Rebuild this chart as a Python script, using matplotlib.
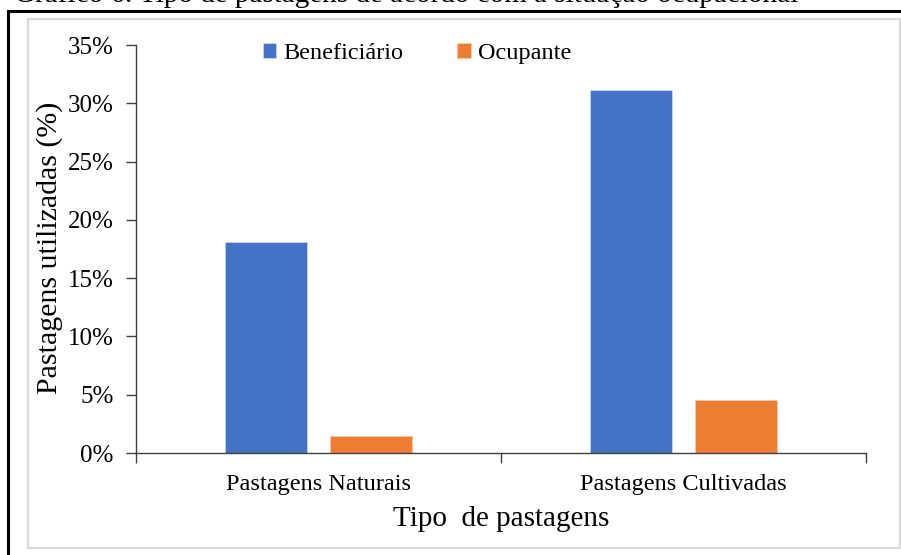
import matplotlib
matplotlib.use("Agg")
import matplotlib.pyplot as plt
from matplotlib.patches import Rectangle
from matplotlib.lines import Line2D
from matplotlib.ticker import FuncFormatter
import numpy as np

categories = ["Pastagens Naturais", "Pastagens Cultivadas"]
series_names = ["Beneficiário", "Ocupante"]
beneficiario = [18.1, 31.1]
ocupante = [1.45, 4.55]
yticks = [0, 5, 10, 15, 20, 25, 30, 35]
title = "Gráfico 6. Tipo de pastagens de acordo com a situação ocupacional"
ylabel = "Pastagens utilizadas (%)"
xlabel = "Tipo  de pastagens"

BLUE = "#4472C4"
ORANGE = "#ED7D31"

plt.rcParams['font.family'] = ['Liberation Serif', 'DejaVu Serif']

W, H = 901, 555
fig = plt.figure(figsize=(W / 100, H / 100), dpi=100)

def fx(px):
    return px / W

def fy(py):
    return 1 - py / H

# frames
fig.patches.append(Rectangle((fx(28), fy(548)), fx(900) - fx(28), fy(19) - fy(548),
                             transform=fig.transFigure, fill=False,
                             edgecolor="#d9d9d9", linewidth=1.6, zorder=0))
fig.lines.append(Line2D([fx(8), fx(8)], [fy(11), 0], transform=fig.transFigure,
                        color="black", linewidth=2.2))
fig.lines.append(Line2D([fx(8), 1], [fy(11), fy(11)], transform=fig.transFigure,
                        color="black", linewidth=2.2))

fig.text(fx(14), fy(2.5), title, ha="left", va="baseline", fontsize=21, color="black")

ax = fig.add_axes([fx(136), fy(453), fx(866) - fx(136), fy(45) - fy(453)])

x = np.arange(len(categories))
bw = 0.225
off = 0.144
ax.bar(x - off, beneficiario, width=bw, color=BLUE, edgecolor="#c9d6ee", linewidth=0.6,
       label=series_names[0], zorder=2)
ax.bar(x + off, ocupante, width=bw, color=ORANGE, edgecolor="#f6c9a8", linewidth=0.6,
       label=series_names[1], zorder=2)

ax.set_xlim(-0.5, 1.5)
ax.set_ylim(0, 35)
ax.set_yticks(yticks)
ax.yaxis.set_major_formatter(FuncFormatter(lambda v, p: f"{v:.0f}%"))

ax.set_xticks([-0.5, 0.5, 1.5])
ax.set_xticklabels([])
ax.set_xticks(x, minor=True)
ax.set_xticklabels(categories, minor=True)
ax.tick_params(axis="x", which="major", direction="out", length=7, width=1, color="#404040")
ax.tick_params(axis="x", which="minor", length=0, pad=15, labelsize=17.5)
ax.tick_params(axis="y", direction="out", length=7, width=1, color="#404040", pad=9,
               labelsize=18)

for s in ["top", "right"]:
    ax.spines[s].set_visible(False)
for s in ["left", "bottom"]:
    ax.spines[s].set_color("#404040")
    ax.spines[s].set_linewidth(1)

ax.set_xlabel(xlabel, fontsize=21, labelpad=8)
fig.text(fx(50), fy(248), ylabel, rotation=90, ha="center", va="center", fontsize=21.5)

leg = ax.legend(loc="upper left", bbox_to_anchor=(0.164, 1.023), ncol=2, frameon=False,
                fontsize=17.5, handlelength=0.55, handleheight=0.55, handletextpad=0.3,
                columnspacing=2.2, borderaxespad=0, borderpad=0.3)

fig.savefig("out.png", dpi=100)
